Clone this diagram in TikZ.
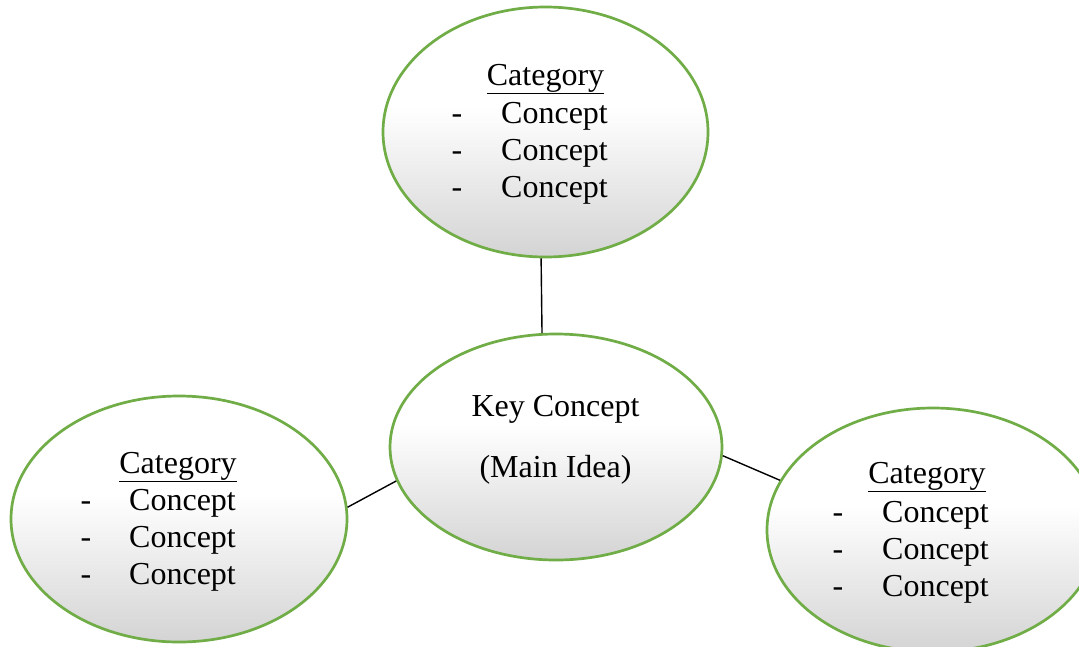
\documentclass[tikz,border=0pt]{standalone}
\usepackage{fontspec}
\setmainfont{Liberation Serif}
\usetikzlibrary{shapes.geometric}
\definecolor{bordergreen}{HTML}{70AD47}
\pgfdeclareverticalshading{ellgrad}{100bp}{color(0bp)=(gray!34); color(25bp)=(gray!34); color(55bp)=(white); color(100bp)=(white)}
\tikzset{
  bubble/.style={ellipse, draw=bordergreen, line width=2.7pt, shading=ellgrad, inner sep=0pt},
  txt/.style={inner sep=0pt, font=\fontsize{32}{37}\selectfont},
  link/.style={draw=black, line width=1.4pt}
}
\begin{document}
\begin{tikzpicture}[x=1pt,y=-1pt]
\clip (0,0) rectangle (1079,646);
\fill[white] (0,0) rectangle (1079,646);
% ellipses
\node[bubble, minimum width=325pt, minimum height=250pt] (top) at (545.5,132) {};
\node[bubble, minimum width=332pt, minimum height=226pt] (key) at (556,447) {};
\node[bubble, minimum width=336pt, minimum height=246pt] (left) at (179,519) {};
\node[bubble, minimum width=332pt, minimum height=244pt] (right) at (933,530) {};
% connectors
\draw[link] (top.-92.06) -- (key.97.6);
\draw[link] (left.4.1) -- (key.192.8);
\draw[link] (key.-3.1) -- (right.162.1);
% top text
\node[txt, anchor=base] (tcat) at (545.5,85) {\underline{Category}};
\node[txt, anchor=base] (td1) at (457,123) {-};
\node[txt, anchor=base] (td2) at (457,160) {-};
\node[txt, anchor=base] (td3) at (457,197) {-};
\node[txt, anchor=base west] (tc1) at (501,123) {Concept};
\node[txt, anchor=base west] (tc2) at (501,160) {Concept};
\node[txt, anchor=base west] (tc3) at (501,197) {Concept};
% key text
\node[txt, anchor=base] (k1) at (555.5,416) {Key Concept};
\node[txt, anchor=base] (k2) at (555.5,477) {(Main Idea)};
% left text
\node[txt, anchor=base] (lcat) at (178,473) {\underline{Category}};
\node[txt, anchor=base] (ld1) at (86,510) {-};
\node[txt, anchor=base] (ld2) at (86,547) {-};
\node[txt, anchor=base] (ld3) at (86,584) {-};
\node[txt, anchor=base west] (lc1) at (129,510) {Concept};
\node[txt, anchor=base west] (lc2) at (129,547) {Concept};
\node[txt, anchor=base west] (lc3) at (129,584) {Concept};
% right text
\node[txt, anchor=base] (rcat) at (927,483) {\underline{Category}};
\node[txt, anchor=base] (rd1) at (838,522) {-};
\node[txt, anchor=base] (rd2) at (838,559) {-};
\node[txt, anchor=base] (rd3) at (838,596) {-};
\node[txt, anchor=base west] (rc1) at (882,522) {Concept};
\node[txt, anchor=base west] (rc2) at (882,559) {Concept};
\node[txt, anchor=base west] (rc3) at (882,596) {Concept};
\end{tikzpicture}
\end{document}
